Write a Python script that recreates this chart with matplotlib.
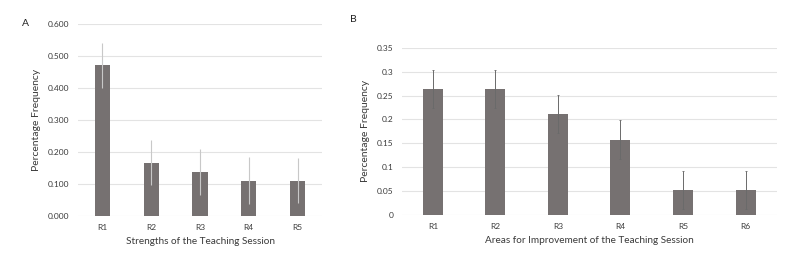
import numpy as np
import matplotlib
matplotlib.use("Agg")
import matplotlib.pyplot as plt

plt.rcParams['font.family'] = ['Lato', 'DejaVu Sans']

# panel A data
cats_a = ['R1', 'R2', 'R3', 'R4', 'R5']
vals_a = [0.472, 0.167, 0.139, 0.111, 0.111]
err_a = [0.071, 0.071, 0.072, 0.073, 0.071]

# panel B data
cats_b = ['R1', 'R2', 'R3', 'R4', 'R5', 'R6']
vals_b = [0.263, 0.263, 0.211, 0.158, 0.053, 0.053]
err_b = [0.040, 0.040, 0.040, 0.040, 0.040, 0.040]

bar_col = '#767171'
grid_col = '#e3e3e3'
txt_col = '#3a3a3a'

fig = plt.figure(figsize=(8, 2.58), dpi=100)
axA = fig.add_axes([0.0975, 0.1628, 0.305, 0.743])
axB = fig.add_axes([0.502, 0.1667, 0.469, 0.648])


def style(ax, yticks, fmt):
    ax.set_yticks(yticks)
    ax.set_yticklabels([fmt.format(v) for v in yticks])
    ax.set_ylim(yticks[0], yticks[-1])
    ax.yaxis.grid(True, color=grid_col, linewidth=0.8)
    ax.set_axisbelow(True)
    for s in ax.spines.values():
        s.set_visible(False)
    ax.tick_params(length=0, labelsize=6, colors=txt_col)
    ax.tick_params(axis='x', pad=6)
    ax.tick_params(axis='y', pad=6)


x = np.arange(len(cats_a))
axA.bar(x, vals_a, width=0.31, color=bar_col, zorder=2)
axA.errorbar(x, vals_a, yerr=err_a, fmt='none', ecolor='#c8c8c8',
             elinewidth=0.8, capsize=0, zorder=3)
axA.set_xticks(x)
axA.set_xticklabels(cats_a)
axA.set_xlim(-0.5, len(cats_a) - 0.5)
style(axA, np.arange(0, 0.61, 0.1), '{:.3f}')
axA.set_ylabel('Percentage Frequency', fontsize=7.5, color=txt_col, labelpad=5)
axA.set_xlabel('Strengths of the Teaching Session', fontsize=7.2, color=txt_col, labelpad=4)

xb = np.arange(len(cats_b))
axB.bar(xb, vals_b, width=0.32, color=bar_col, zorder=2)
axB.errorbar(xb, vals_b, yerr=err_b, fmt='none', ecolor='#6a6a6a',
             elinewidth=0.7, capsize=1, capthick=0.6, zorder=3)
axB.set_xticks(xb)
axB.set_xticklabels(cats_b)
axB.set_xlim(-0.5, len(cats_b) - 0.5)
yb = [0, 0.05, 0.1, 0.15, 0.2, 0.25, 0.3, 0.35]
style(axB, yb, '{:g}')
axB.set_ylabel('Percentage Frequency', fontsize=7.5, color=txt_col, labelpad=5)
axB.set_xlabel('Areas for Improvement of the Teaching Session', fontsize=7.2, color=txt_col, labelpad=4)

fig.text(22 / 800, 1 - 23 / 258, 'A', fontsize=7.5, color='#222222', va='center')
fig.text(350 / 800, 1 - 20 / 258, 'B', fontsize=7.5, color='#222222', va='center')

fig.savefig('out.png', dpi=100, facecolor='white')
